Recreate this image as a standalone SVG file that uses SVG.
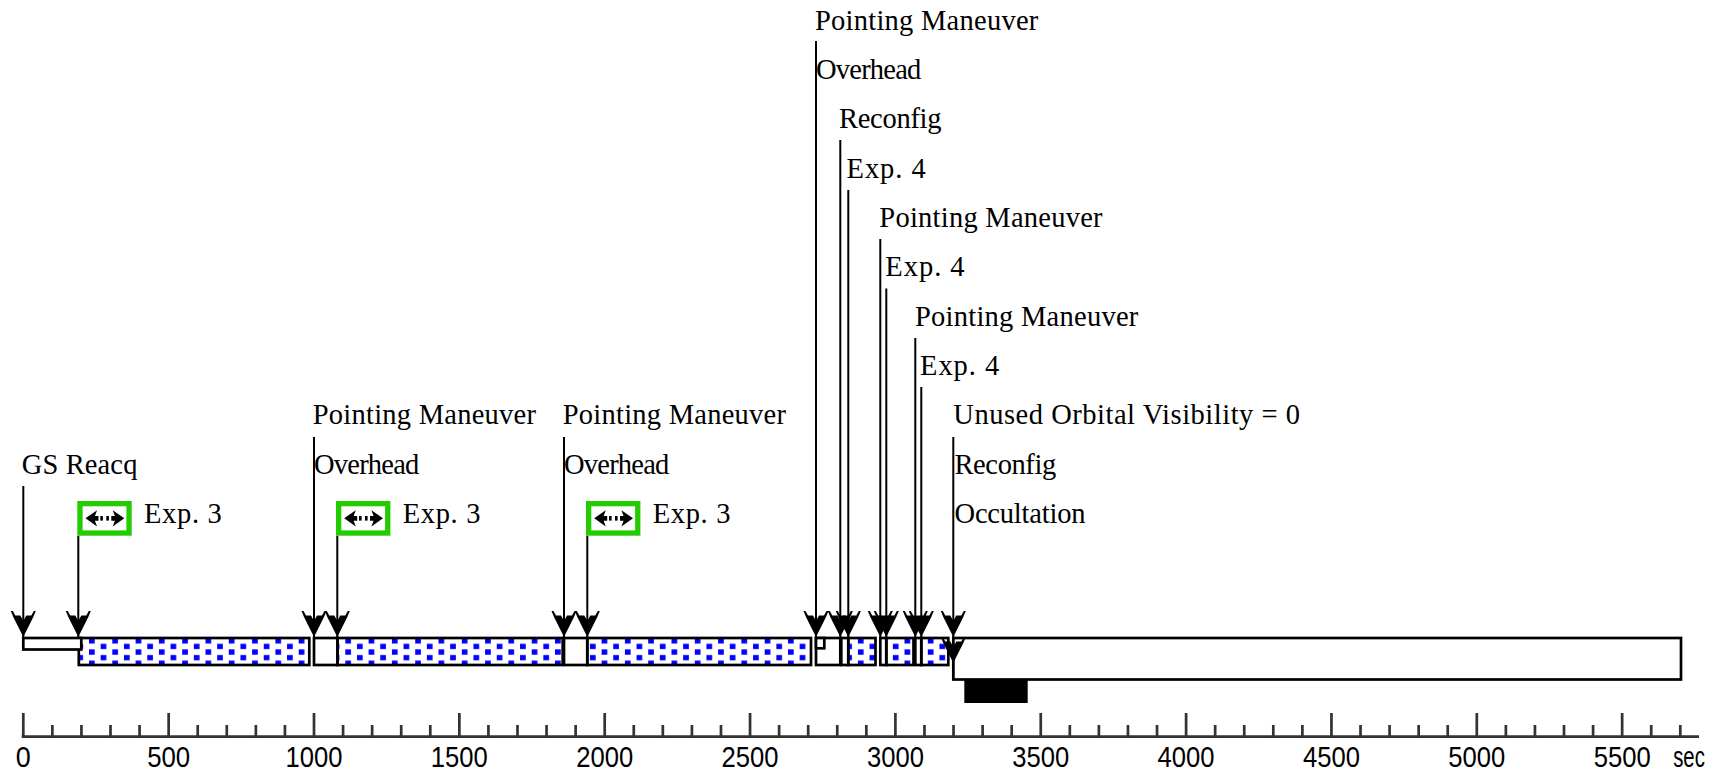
<svg xmlns="http://www.w3.org/2000/svg" xmlns:xlink="http://www.w3.org/1999/xlink" width="1725" height="773" viewBox="0 0 1725 773">
<style>
.lbl{font-family:"Liberation Serif","Times New Roman",serif;font-size:28.5px;fill:#000}
.ax{font-family:"Liberation Sans Narrow","Liberation Sans",Arial,sans-serif;font-size:30px;fill:#000;text-anchor:middle}
.sci{fill:url(#dots);stroke:#000;stroke-width:2.7}
.oh{fill:#fff;stroke:#000;stroke-width:2.7}
.conn{stroke:#000;stroke-width:2;fill:none}
.gbox{fill:#fff;stroke:#22cc00;stroke-width:5.3}
</style>
<defs>
<pattern id="dots" patternUnits="userSpaceOnUse" x="89" y="638" width="23.3" height="11.2">
<rect x="0" y="0.2" width="5.7" height="5.3" fill="#0000ff"/>
<rect x="11.65" y="5.8" width="5.7" height="5.3" fill="#0000ff"/>
</pattern>
<path id="ah" d="M0,0 L-10,-20 L-12.5,-26 L-10.5,-26 L-8,-21.5 L-3,-21.5 L0,-16 L3,-21.5 L8,-21.5 L10.5,-26 L12.5,-26 L10,-20 Z" fill="#000"/>
<g id="icon">
<rect class="gbox" x="2.65" y="2.65" width="49.1" height="29.4"/>
<path d="M8.2,17.3 L19.8,9.2 L17.6,14.9 L21.2,14.9 L21.2,19.7 L17.6,19.7 L19.8,25.4 Z" fill="#000"/>
<rect x="23" y="15" width="2.6" height="4.6" fill="#000"/>
<rect x="29" y="15" width="2.6" height="4.6" fill="#000"/>
<path d="M47,17.3 L35.4,9.2 L37.6,14.9 L34,14.9 L34,19.7 L37.6,19.7 L35.4,25.4 Z" fill="#000"/>
</g>
</defs>
<rect width="1725" height="773" fill="#fff"/>

<g id="timeline">
<rect class="sci" x="78.8" y="638" width="230.5" height="27"/>
<rect class="oh" x="23.3" y="638" width="58" height="11.5"/>
<rect class="oh" x="314" y="638" width="23.5" height="27"/>
<rect class="sci" x="337.5" y="638" width="225.2" height="27"/>
<rect class="oh" x="564" y="638" width="23.3" height="27"/>
<rect class="sci" x="587.3" y="638" width="223.7" height="27"/>
<rect class="oh" x="816" y="638" width="24.3" height="27"/>
<rect class="oh" x="816" y="638" width="8.3" height="10.3"/>
<rect class="oh" x="841.3" y="638" width="7" height="27"/>
<rect class="sci" x="848.3" y="638" width="27.2" height="27"/>
<rect class="oh" x="880.3" y="638" width="6" height="27"/>
<rect class="sci" x="886.3" y="638" width="27.2" height="27"/>
<rect class="oh" x="915.3" y="638" width="6" height="27"/>
<rect class="sci" x="921.3" y="638" width="27" height="27"/>
<rect class="oh" x="953.3" y="638" width="727.7" height="41.5"/>
<rect x="964.3" y="679" width="63.4" height="24" fill="#000"/>
</g>

<g id="connectors">
<path class="conn" d="M23.3,486V637 M78.3,535.7V637 M314,437V637 M337.3,535.7V637 M564,437V637 M587.3,535.7V637 M816,41V637 M840.3,140V637 M848.3,190V637 M880.3,239V637 M886.3,288.5V637 M915.3,338V637 M921.3,387V637 M953.3,437V679"/>
<use xlink:href="#ah" x="23.3" y="637"/>
<use xlink:href="#ah" x="78.3" y="637"/>
<use xlink:href="#ah" x="314" y="637"/>
<use xlink:href="#ah" x="337.3" y="637"/>
<use xlink:href="#ah" x="564" y="637"/>
<use xlink:href="#ah" x="587.3" y="637"/>
<use xlink:href="#ah" x="816" y="637"/>
<use xlink:href="#ah" x="840.3" y="637"/>
<use xlink:href="#ah" x="848.3" y="637"/>
<use xlink:href="#ah" x="880.3" y="637"/>
<use xlink:href="#ah" x="886.3" y="637"/>
<use xlink:href="#ah" x="915.3" y="637"/>
<use xlink:href="#ah" x="921.3" y="637"/>
<use xlink:href="#ah" x="953.3" y="637"/>
<use xlink:href="#ah" x="953.3" y="663"/>
</g>

<g id="ev-gs-reacq"><text class="lbl" x="21.7" y="473.7" textLength="115.7">GS Reacq</text></g>
<g id="ev-exp3-a"><use xlink:href="#icon" x="77.3" y="501"/><text class="lbl" x="144" y="523" textLength="77.7">Exp. 3</text></g>
<g id="ev-pm-a"><text class="lbl" x="312.7" y="424.3" textLength="223.3">Pointing Maneuver</text><text class="lbl" x="314" y="473.7" textLength="105.3">Overhead</text></g>
<g id="ev-exp3-b"><use xlink:href="#icon" x="336" y="501"/><text class="lbl" x="402.7" y="523" textLength="77.7">Exp. 3</text></g>
<g id="ev-pm-b"><text class="lbl" x="562.7" y="424.3" textLength="223.3">Pointing Maneuver</text><text class="lbl" x="564" y="473.7" textLength="105.3">Overhead</text></g>
<g id="ev-exp3-c"><use xlink:href="#icon" x="586" y="501"/><text class="lbl" x="652.7" y="523" textLength="77.7">Exp. 3</text></g>
<g id="ev-pm-c"><text class="lbl" x="815" y="29.5" textLength="223.3">Pointing Maneuver</text><text class="lbl" x="816" y="78.9" textLength="105.3">Overhead</text></g>
<g id="ev-reconfig-a"><text class="lbl" x="839" y="128.2" textLength="102.5">Reconfig</text></g>
<g id="ev-exp4-a"><text class="lbl" x="846.5" y="177.6" textLength="79.3">Exp. 4</text></g>
<g id="ev-pm-d"><text class="lbl" x="879.3" y="226.9" textLength="223.3">Pointing Maneuver</text></g>
<g id="ev-exp4-b"><text class="lbl" x="885.3" y="276.3" textLength="79.3">Exp. 4</text></g>
<g id="ev-pm-e"><text class="lbl" x="915" y="325.6" textLength="223.3">Pointing Maneuver</text></g>
<g id="ev-exp4-c"><text class="lbl" x="920" y="375" textLength="79.3">Exp. 4</text></g>
<g id="ev-unused"><text class="lbl" x="953.3" y="424.3" textLength="346.7">Unused Orbital Visibility = 0</text><text class="lbl" x="954.5" y="473.7" textLength="101.7">Reconfig</text><text class="lbl" x="954.5" y="523" textLength="131">Occultation</text></g>

<g id="axis">
<path d="M21.7,736.7H1699" stroke="#333" stroke-width="2.7" fill="none"/>
<path stroke="#333" stroke-width="2.7" fill="none" d="M23.3,737V713 M52.37,737V725 M81.44,737V725 M110.51,737V725 M139.58,737V725 M168.65,737V713 M197.72,737V725 M226.79,737V725 M255.86,737V725 M284.93,737V725 M314,737V713 M343.07,737V725 M372.14,737V725 M401.21,737V725 M430.28,737V725 M459.35,737V713 M488.42,737V725 M517.49,737V725 M546.56,737V725 M575.63,737V725 M604.7,737V713 M633.77,737V725 M662.84,737V725 M691.91,737V725 M720.98,737V725 M750.05,737V713 M779.12,737V725 M808.19,737V725 M837.26,737V725 M866.33,737V725 M895.4,737V713 M924.47,737V725 M953.54,737V725 M982.61,737V725 M1011.68,737V725 M1040.75,737V713 M1069.82,737V725 M1098.89,737V725 M1127.96,737V725 M1157.03,737V725 M1186.1,737V713 M1215.17,737V725 M1244.24,737V725 M1273.31,737V725 M1302.38,737V725 M1331.45,737V713 M1360.52,737V725 M1389.59,737V725 M1418.66,737V725 M1447.73,737V725 M1476.8,737V713 M1505.87,737V725 M1534.94,737V725 M1564.01,737V725 M1593.08,737V725 M1622.15,737V713 M1651.22,737V725 M1680.29,737V725"/>
<text class="ax" x="23.3" y="766.5" textLength="15" lengthAdjust="spacingAndGlyphs">0</text>
<text class="ax" x="168.65" y="766.5" textLength="43" lengthAdjust="spacingAndGlyphs">500</text>
<text class="ax" x="314" y="766.5" textLength="57" lengthAdjust="spacingAndGlyphs">1000</text>
<text class="ax" x="459.35" y="766.5" textLength="57" lengthAdjust="spacingAndGlyphs">1500</text>
<text class="ax" x="604.7" y="766.5" textLength="57" lengthAdjust="spacingAndGlyphs">2000</text>
<text class="ax" x="750.05" y="766.5" textLength="57" lengthAdjust="spacingAndGlyphs">2500</text>
<text class="ax" x="895.4" y="766.5" textLength="57" lengthAdjust="spacingAndGlyphs">3000</text>
<text class="ax" x="1040.75" y="766.5" textLength="57" lengthAdjust="spacingAndGlyphs">3500</text>
<text class="ax" x="1186.1" y="766.5" textLength="57" lengthAdjust="spacingAndGlyphs">4000</text>
<text class="ax" x="1331.45" y="766.5" textLength="57" lengthAdjust="spacingAndGlyphs">4500</text>
<text class="ax" x="1476.8" y="766.5" textLength="57" lengthAdjust="spacingAndGlyphs">5000</text>
<text class="ax" x="1622.15" y="766.5" textLength="57" lengthAdjust="spacingAndGlyphs">5500</text>
<text class="ax" x="1689" y="767" textLength="31.7" lengthAdjust="spacingAndGlyphs">sec</text>
</g>
</svg>
